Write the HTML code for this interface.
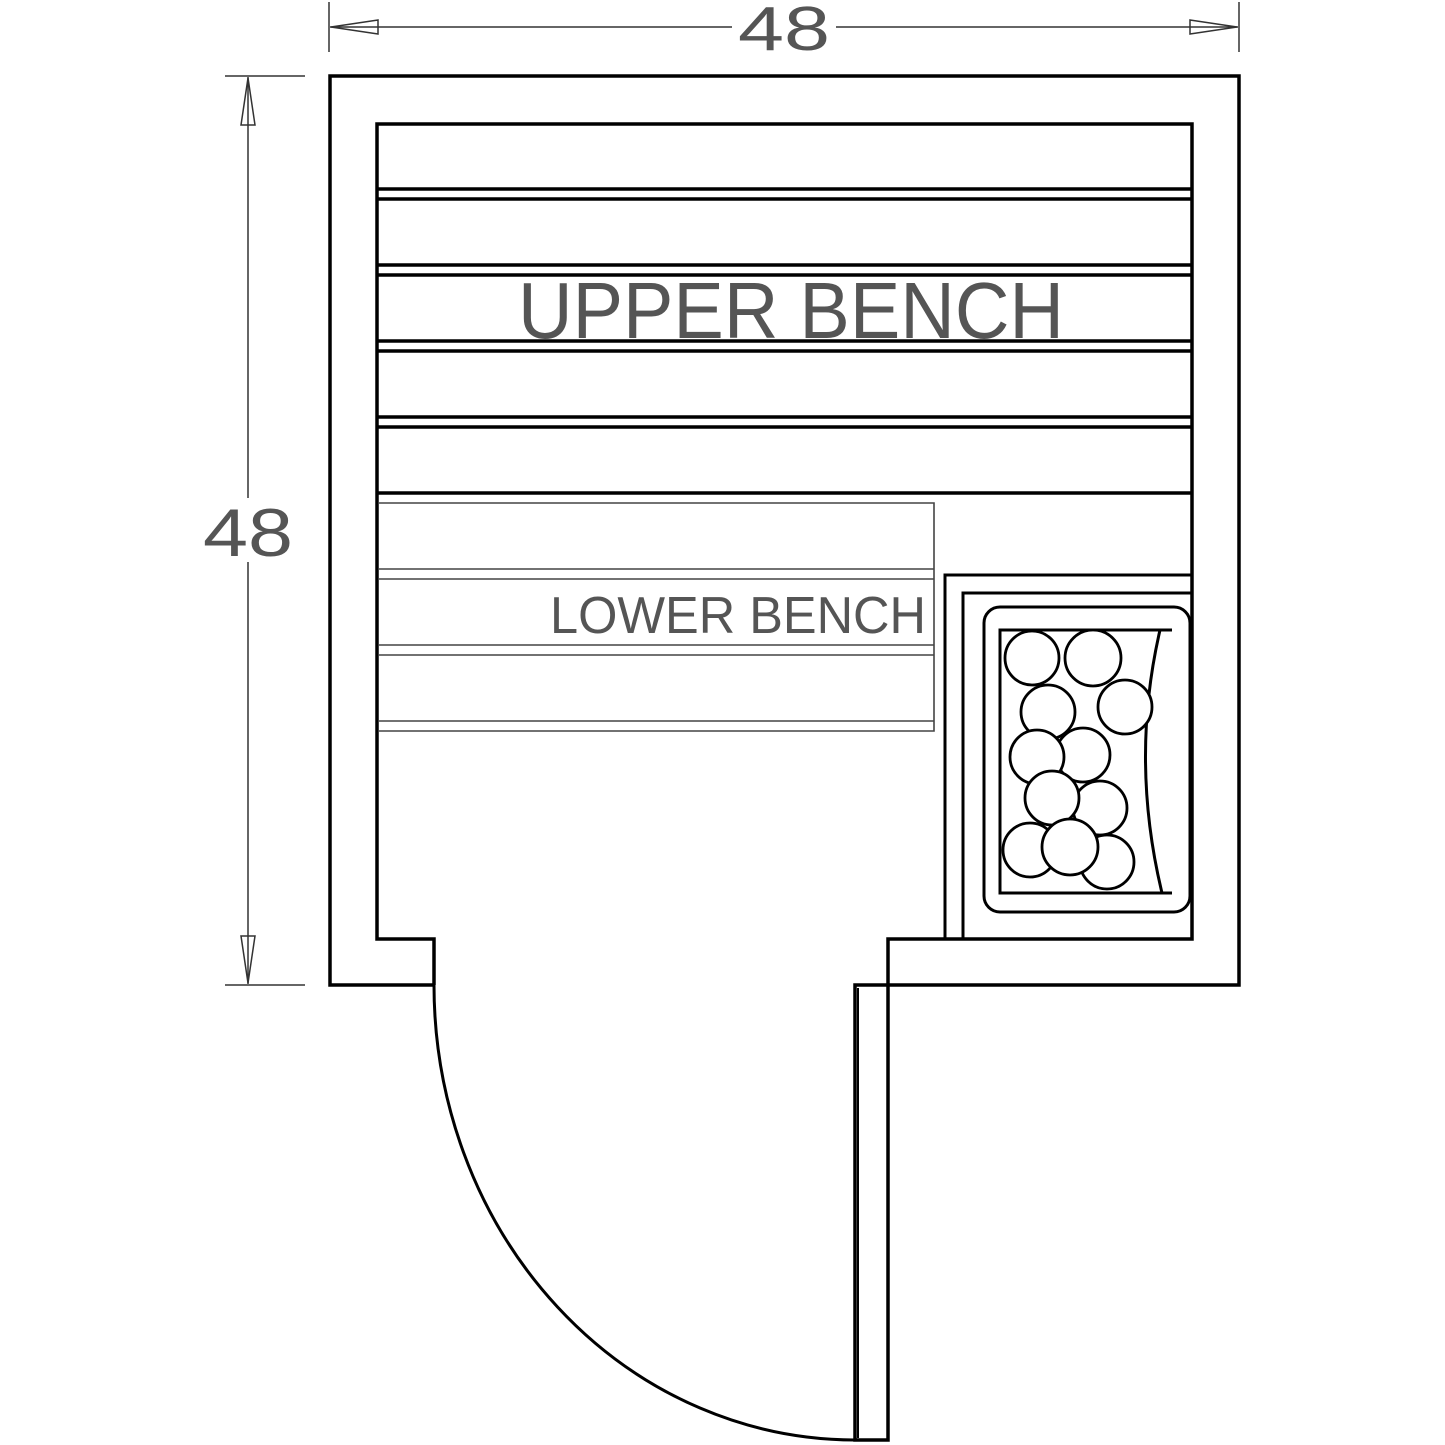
<!DOCTYPE html>
<html><head><style>html,body{margin:0;padding:0;background:#fff}svg{display:block}</style></head>
<body>
<svg width="1445" height="1445" viewBox="0 0 1445 1445" xmlns="http://www.w3.org/2000/svg">
<g fill="none" stroke="#000">
<!-- dimensions -->
<g stroke-width="1.5" stroke="#333">
<line x1="329" y1="2" x2="329" y2="52"/><line x1="1239" y1="2" x2="1239" y2="52"/>
<line x1="330" y1="27" x2="732" y2="27"/><line x1="836" y1="27" x2="1238" y2="27"/>
<path d="M331 27 L378 20 L378 34 Z"/><path d="M1237 27 L1190 20 L1190 34 Z"/>
<line x1="225" y1="76" x2="305" y2="76"/><line x1="225" y1="985" x2="305" y2="985"/>
<line x1="248" y1="77" x2="248" y2="498"/><line x1="248" y1="562" x2="248" y2="984"/>
<path d="M248 78 L241 125 L255 125 Z"/><path d="M248 983 L241 936 L255 936 Z"/>
</g>
<!-- walls -->
<g stroke-width="3.5">
<path d="M434 985 L330 985 L330 76 L1239 76 L1239 985 L855 985 L855 1440 L888 1440 L888 985"/>
<path d="M434 985 L434 939 L377 939 L377 124 L1192 124 L1192 939 L888 939 L888 985"/>
<line x1="377" y1="189" x2="1192" y2="189"/><line x1="377" y1="199" x2="1192" y2="199"/>
<line x1="377" y1="265" x2="1192" y2="265"/><line x1="377" y1="275" x2="1192" y2="275"/>
<line x1="377" y1="341" x2="1192" y2="341"/><line x1="377" y1="351" x2="1192" y2="351"/>
<line x1="377" y1="417" x2="1192" y2="417"/><line x1="377" y1="427" x2="1192" y2="427"/>
<line x1="377" y1="493" x2="1192" y2="493"/>
</g>
<line x1="858" y1="988" x2="858" y2="1438" stroke-width="2"/>
<path d="M434 985 A421 455 0 0 0 855 1440" stroke-width="3"/>
<!-- lower bench -->
<g stroke-width="1.6" stroke="#444">
<path d="M379 503 L934 503 L934 731 L379 731"/>
<line x1="379" y1="569" x2="934" y2="569"/><line x1="379" y1="579" x2="934" y2="579"/>
<line x1="379" y1="645" x2="934" y2="645"/><line x1="379" y1="655" x2="934" y2="655"/>
<line x1="379" y1="721" x2="934" y2="721"/>
</g>
<!-- heater -->
<g stroke-width="3">
<path d="M945 939 L945 575 L1192 575"/>
<path d="M963 939 L963 593 L1192 593"/>
<rect x="984" y="607" width="206" height="305" rx="16"/>
<path d="M1172 630 L1000 630 L1000 893 L1172 893"/>
<path d="M1160 630 Q1130 760 1162 893"/>
<g stroke-width="2.8" fill="#fff">
<circle cx="1125" cy="707" r="27"/>
<circle cx="1100" cy="808" r="27"/>
<circle cx="1107" cy="862" r="27"/>
<circle cx="1048" cy="712" r="27"/>
<circle cx="1032" cy="658" r="27"/>
<circle cx="1093" cy="658" r="28"/>
<circle cx="1083" cy="755" r="27"/>
<circle cx="1037" cy="757" r="27"/>
<circle cx="1052" cy="798" r="27"/>
<circle cx="1030" cy="850" r="27"/>
<circle cx="1070" cy="847" r="28"/>
</g>
</g>
</g>
<g font-family="Liberation Sans, sans-serif" fill="#555">
<text x="738" y="50" font-size="62" textLength="92" lengthAdjust="spacingAndGlyphs">48</text>
<text x="203" y="556" font-size="68" textLength="90" lengthAdjust="spacingAndGlyphs">48</text>
<text x="518" y="338" font-size="80" textLength="546" lengthAdjust="spacingAndGlyphs">UPPER  BENCH</text>
<text x="550" y="633" font-size="52" textLength="376" lengthAdjust="spacingAndGlyphs">LOWER  BENCH</text>
</g>
</svg>
</body></html>
